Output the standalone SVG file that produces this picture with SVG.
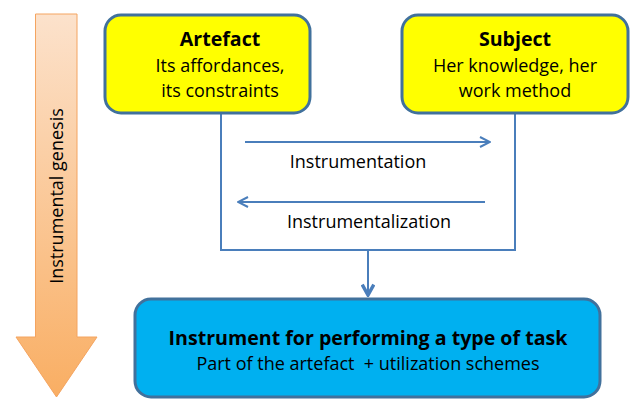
<svg xmlns="http://www.w3.org/2000/svg" width="630" height="400" viewBox="0 0 630 400">
<style>
text{font-family:"Open Sans","Liberation Sans",Arial,sans-serif;fill:#000;text-anchor:middle}
.t{font-weight:bold;font-size:19.6px}
.s{font-size:18px}
.c{fill:none;stroke:#4A7EBB;stroke-width:2}
.box{stroke:#41719C;stroke-width:3}
</style>
<defs>
<linearGradient id="og" x1="0" y1="0" x2="0" y2="1">
<stop offset="0" stop-color="#FCE2CC"/>
<stop offset="1" stop-color="#F9AE63"/>
</linearGradient>
<marker id="ah" viewBox="0 0 12 12" refX="11" refY="6" markerWidth="12" markerHeight="12" markerUnits="userSpaceOnUse" orient="auto">
<path d="M1,1 L11,6 L1,11" fill="none" stroke="#4A7EBB" stroke-width="2"/>
</marker>
<marker id="ah2" viewBox="0 0 12 12" refX="10" refY="6" markerWidth="14" markerHeight="14" markerUnits="userSpaceOnUse" orient="auto">
<path d="M1,1 L10,6 L1,11" fill="none" stroke="#4A7EBB" stroke-width="3"/>
</marker>
</defs>
<g id="genesis">
<path d="M35.5,14 L77,14 L77,337 L97,337 L56.5,397 L16,337 L35.5,337 Z" fill="url(#og)" stroke="#F4A460" stroke-width="1"/>
<text class="s" font-size="18.5" transform="translate(63,196) rotate(-90)">Instrumental genesis</text>
</g>
<g id="connectors">
<path class="c" d="M221,113 L221,250 L515,250 L515,113" stroke-width="3"/>
<path class="c" d="M368,250 L368,295" stroke-width="3" marker-end="url(#ah2)"/>
<path class="c" d="M245,142 L490,142" marker-end="url(#ah)"/>
<path class="c" d="M485,202 L238,202" marker-end="url(#ah)"/>
<text class="s" x="358" y="168">Instrumentation</text>
<text class="s" x="369" y="228">Instrumentalization</text>
</g>
<g id="artefact">
<rect class="box" x="105" y="15" width="205" height="98" rx="16" fill="#FFFF00"/>
<text class="t" x="220" y="46">Artefact</text>
<text class="s" x="220" y="72">Its affordances,</text>
<text class="s" x="220" y="97">its constraints</text>
</g>
<g id="subject">
<rect class="box" x="402" y="15" width="226" height="98" rx="16" fill="#FFFF00"/>
<text class="t" x="515" y="46">Subject</text>
<text class="s" x="515" y="72">Her knowledge, her</text>
<text class="s" x="515" y="97">work method</text>
</g>
<g id="instrument">
<rect class="box" x="135" y="299" width="465" height="98" rx="16" fill="#00B0F0"/>
<text class="t" x="368" y="345">Instrument for performing a type of task</text>
<text class="s" x="368" y="370">Part of the artefact&#160; + utilization schemes</text>
</g>
</svg>
